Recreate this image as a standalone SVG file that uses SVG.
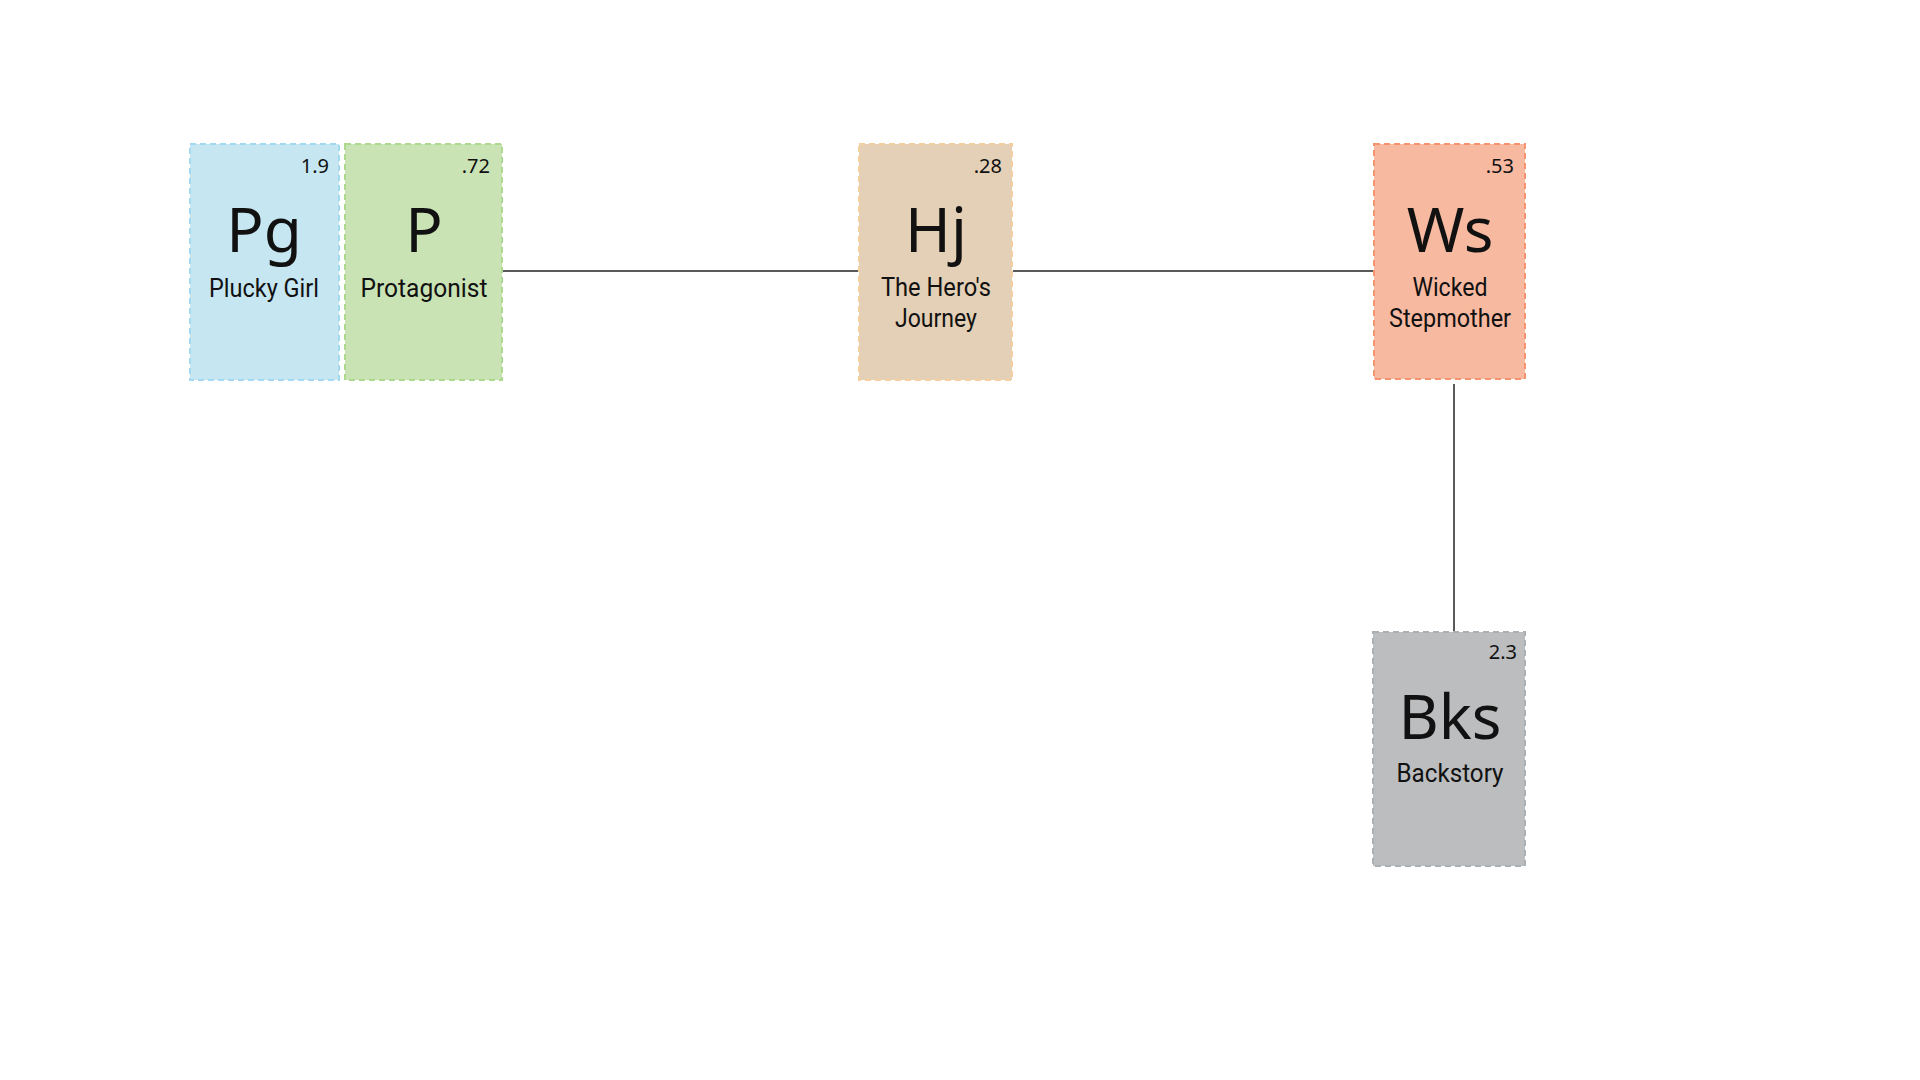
<svg xmlns="http://www.w3.org/2000/svg" width="1920" height="1080" viewBox="0 0 1920 1080">
<style>
.box{stroke-width:2;stroke-dasharray:6 4}
.sym{font-family:"Noto Sans","DejaVu Sans",sans-serif;font-size:62px;fill:#111;text-anchor:middle}
.val{font-family:"Noto Sans","DejaVu Sans",sans-serif;font-size:20px;fill:#111;text-anchor:end}
.lbl{font-family:Roboto,"Liberation Sans",sans-serif;font-size:26px;fill:#111;text-anchor:middle}
.conn{stroke:#222;stroke-width:1.5;fill:none}
</style>
<rect width="1920" height="1080" fill="#fff"/>
<g id="connectors">
<line class="conn" x1="503" y1="271" x2="858" y2="271"/>
<line class="conn" x1="1013" y1="271" x2="1373" y2="271"/>
<line class="conn" x1="1454" y1="384" x2="1454" y2="631"/>
</g>
<g id="node-pg">
<rect class="box" x="190" y="144" width="149" height="236" fill="#c6e7f1" stroke="#a3daf2"/>
<text class="val" x="329" y="173">1.9</text>
<text class="sym" x="264" y="252">Pg</text>
<text class="lbl" x="264" y="297" textLength="110" lengthAdjust="spacingAndGlyphs">Plucky Girl</text>
</g>
<g id="node-p">
<rect class="box" x="345" y="144" width="157" height="236" fill="#cae3b5" stroke="#acd98e"/>
<text class="val" x="490" y="173">.72</text>
<text class="sym" x="424" y="252">P</text>
<text class="lbl" x="424" y="297" textLength="127" lengthAdjust="spacingAndGlyphs">Protagonist</text>
</g>
<g id="node-hj">
<rect class="box" x="859" y="144" width="153" height="236" fill="#e4d0b6" stroke="#f6cf9f"/>
<text class="val" x="1002" y="173">.28</text>
<text class="sym" x="936" y="252">Hj</text>
<text class="lbl" x="936" y="296" textLength="110" lengthAdjust="spacingAndGlyphs">The Hero's</text>
<text class="lbl" x="936" y="327" textLength="82" lengthAdjust="spacingAndGlyphs">Journey</text>
</g>
<g id="node-ws">
<rect class="box" x="1374" y="144" width="151" height="235" fill="#f8b9a1" stroke="#f6946f"/>
<text class="val" x="1514" y="173">.53</text>
<text class="sym" x="1450" y="252">Ws</text>
<text class="lbl" x="1450" y="296" textLength="75" lengthAdjust="spacingAndGlyphs">Wicked</text>
<text class="lbl" x="1450" y="327" textLength="122" lengthAdjust="spacingAndGlyphs">Stepmother</text>
</g>
<g id="node-bks">
<rect class="box" x="1373" y="632" width="152" height="234" fill="#bcbdbf" stroke="#a9b0b6"/>
<text class="val" x="1517" y="659">2.3</text>
<text class="sym" x="1450" y="739">Bks</text>
<text class="lbl" x="1450" y="782" textLength="107" lengthAdjust="spacingAndGlyphs">Backstory</text>
</g>
</svg>
